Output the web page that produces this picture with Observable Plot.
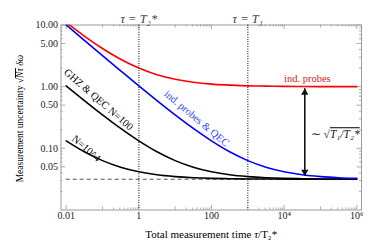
<!DOCTYPE html>
<html><head><meta charset="utf-8">
<script src="https://cdn.jsdelivr.net/npm/d3@7"></script>
<script src="https://cdn.jsdelivr.net/npm/@observablehq/plot@0.6"></script>
<style>body{margin:0;background:#fff}</style>
</head><body><div id="chart"></div>
<script>
// Total measurement time tau/T2*
const tau = [0.01, 0.0316, 0.1, 0.316, 1, 3.16, 10, 31.6, 100, 316, 1000, 3162, 10000, 31623, 100000, 316228, 1000000];
// Measurement uncertainty for each series
const indProbes = [11, 6.62, 4.16, 2.78, 2.0, 1.56, 1.32, 1.18, 1.10, 1.06, 1.03, 1.02, 1.01, 1.006, 1.003, 1.002, 1.001];
const indProbesQEC = [10.03, 5.65, 3.19, 1.81, 1.03, 0.594, 0.348, 0.21, 0.132, 0.0878, 0.0632, 0.0494, 0.0416, 0.0372, 0.0348, 0.0334, 0.0326];
const ghzN100 = [1.03, 0.594, 0.348, 0.21, 0.132, 0.0878, 0.0632, 0.0494, 0.0416, 0.0372, 0.0348, 0.0334, 0.0326, 0.0322, 0.0319, 0.0318, 0.0317];
const ghzN1e4 = [0.132, 0.0878, 0.0632, 0.0494, 0.0416, 0.0372, 0.0348, 0.0334, 0.0326, 0.0322, 0.0319, 0.0318, 0.0317, 0.0316, 0.0316, 0.0316, 0.0316];
const floorLevel = 0.0316;
const markers = [1, 1000]; // tau = T2*, tau = T1
const arrowTau = 37000;
const arrowTop = 0.925, arrowBottom = 0.036;

const xTicks = [0.01, 1, 100, 1e4, 1e6];
const xTickLabels = ["0.01", "1", "100", "10⁴", "10⁶"];
const xMid = [0.1, 10, 1000, 1e5];
const xMinor = xMid.flatMap(d => [2,3,4,5,6,7,8,9].map(k => k * d));
const yTicks = [10, 5, 1, 0.5, 0.1, 0.05];
const yTickLabels = ["10.00", "5.00", "1.00", "0.50", "0.10", "0.05"];
const yMinor = [0.01, 0.1, 1].flatMap(d => [2,3,4,6,7,8,9].map(k => k * d));

const W = 374, H = 248, mt = 24.5, mr = 13, mb = 38.5, ml = 60.5;
const FW = W - ml - mr, FH = H - mt - mb;
const serif = "Liberation Serif, Times New Roman, serif";
const tickColor = "#999";

const series = (vals) => tau.map((t, i) => ({t, v: vals[i]}));
const lineOpts = (stroke) => ({x: "t", y: "v", stroke, strokeWidth: 1.6, curve: "monotone-x", clip: true});

const ticks = (vals, len) => [
  Plot.ruleX(vals, {x: d => d, insetTop: FH - len, stroke: tickColor, strokeWidth: 0.8}),
  Plot.ruleX(vals, {x: d => d, insetBottom: FH - len, stroke: tickColor, strokeWidth: 0.8})
];
const yticks = (vals, len) => [
  Plot.ruleY(vals, {y: d => d, insetRight: FW - len, stroke: tickColor, strokeWidth: 0.8}),
  Plot.ruleY(vals, {y: d => d, insetLeft: FW - len, stroke: tickColor, strokeWidth: 0.8})
];

const chart = Plot.plot({
  width: W, height: H,
  marginTop: mt, marginRight: mr, marginBottom: mb, marginLeft: ml,
  style: {fontFamily: serif, fontSize: "10px", background: "#fff", color: "#000"},
  x: {type: "log", domain: [10 ** -2.143, 10 ** 6.13], label: null, axis: null},
  y: {type: "log", domain: [0.01, 10], label: null, axis: null},
  marks: [
    ...ticks(xTicks, 4.5), ...ticks(xMid, 3), ...ticks(xMinor, 2),
    ...yticks(yTicks, 4.5), ...yticks(yMinor, 2),
    Plot.frame({stroke: tickColor, strokeWidth: 1}),
    Plot.text(xTicks, {x: d => d, frameAnchor: "bottom", dy: 9, text: (d, i) => xTickLabels[i], fontSize: 10, fill: "#222"}),
    Plot.text(yTicks, {y: d => d, frameAnchor: "left", dx: -3, textAnchor: "end", text: (d, i) => yTickLabels[i], fontSize: 10, fill: "#222"}),
    Plot.ruleX(markers, {x: d => d, stroke: "#444", strokeWidth: 1.3, strokeDasharray: "1,1.4"}),
    Plot.ruleY([{y: floorLevel, x1: tau[0], x2: tau[tau.length - 1]}], {y: "y", x1: "x1", x2: "x2", stroke: "#555", strokeWidth: 1.1, strokeDasharray: "4,3"}),
    Plot.line(series(ghzN1e4), lineOpts("#000")),
    Plot.line(series(ghzN100), lineOpts("#000")),
    Plot.line(series(indProbesQEC), lineOpts("#0000ff")),
    Plot.line(series(indProbes), lineOpts("#ff0000")),
    // arrow
    Plot.ruleX([{x: arrowTau, y1: arrowTop, y2: arrowBottom}], {x: "x", y1: "y1", y2: "y2", stroke: "#111", strokeWidth: 1.6}),
    Plot.dot([{x: arrowTau, y: arrowTop}], {x: "x", y: "y", symbol: "triangle", r: 2.7, fill: "#111", stroke: null, dy: 3.9}),
    Plot.dot([{x: arrowTau, y: arrowBottom}], {x: "x", y: "y", symbol: "triangle", rotate: 180, r: 2.7, fill: "#111", stroke: null, dy: -3.9}),
    // labels
    Plot.text([{x: 1, t: "τ = T₂*"}, {x: 1000, t: "τ = T₁"}], {x: "x", text: "t", frameAnchor: "top", dy: -11, fontSize: 12.5, fontStyle: "italic", fill: "#444"}),
    Plot.text([{x: 0.078, y: 0.62}], {x: "x", y: "y", text: () => "GHZ & QEC N=100", rotate: 41, fontSize: 10.5, fill: "#000"}),
    Plot.text([{x: 0.036, y: 0.1}], {x: "x", y: "y", text: () => "N=10^4", rotate: 41, fontSize: 10.5, fill: "#000"}),
    Plot.text([{x: 39, y: 0.305}], {x: "x", y: "y", text: () => "ind. probes & QEC", rotate: 40, fontSize: 10.5, fill: "#2b45ff"}),
    Plot.text([{x: 43600, y: 1.34}], {x: "x", y: "y", text: () => "ind. probes", fontSize: 10.5, fill: "#d42020"}),
    Plot.text([{x: 54000, y: 0.168}], {x: "x", y: "y", text: () => "∼ √T₁/T₂*", textAnchor: "start", fontSize: 11.5, fill: "#222"}),
    Plot.text(["y"], {frameAnchor: "left", textAnchor: "middle", dx: -41, dy: 1, rotate: -90, text: () => "Measurement uncertainty √Nτ δω", fontSize: 9.5, fill: "#000"}),
    Plot.text(["x"], {frameAnchor: "bottom", textAnchor: "middle", dy: 28, text: () => "Total measurement time τ/T₂*", fontSize: 11, fill: "#000"})
  ]
});

const texts = [...chart.querySelectorAll("text")];
const ylab = texts.find(e => e.textContent.startsWith("Measurement"));
if (ylab) ylab.innerHTML = 'Measurement uncertainty √<tspan font-style="italic" style="text-decoration:overline">Nτ</tspan> <tspan font-style="italic">δω</tspan>';
const sq = texts.find(e => e.textContent.startsWith("∼"));
if (sq) sq.innerHTML = '∼ √<tspan font-style="italic" style="text-decoration:overline">T₁/T₂*</tspan>';
const xlab = texts.find(e => e.textContent.startsWith("Total"));
if (xlab) xlab.innerHTML = 'Total measurement time <tspan font-style="italic">τ</tspan>/T₂*';
document.getElementById("chart").appendChild(chart);
</script>
</body></html>
